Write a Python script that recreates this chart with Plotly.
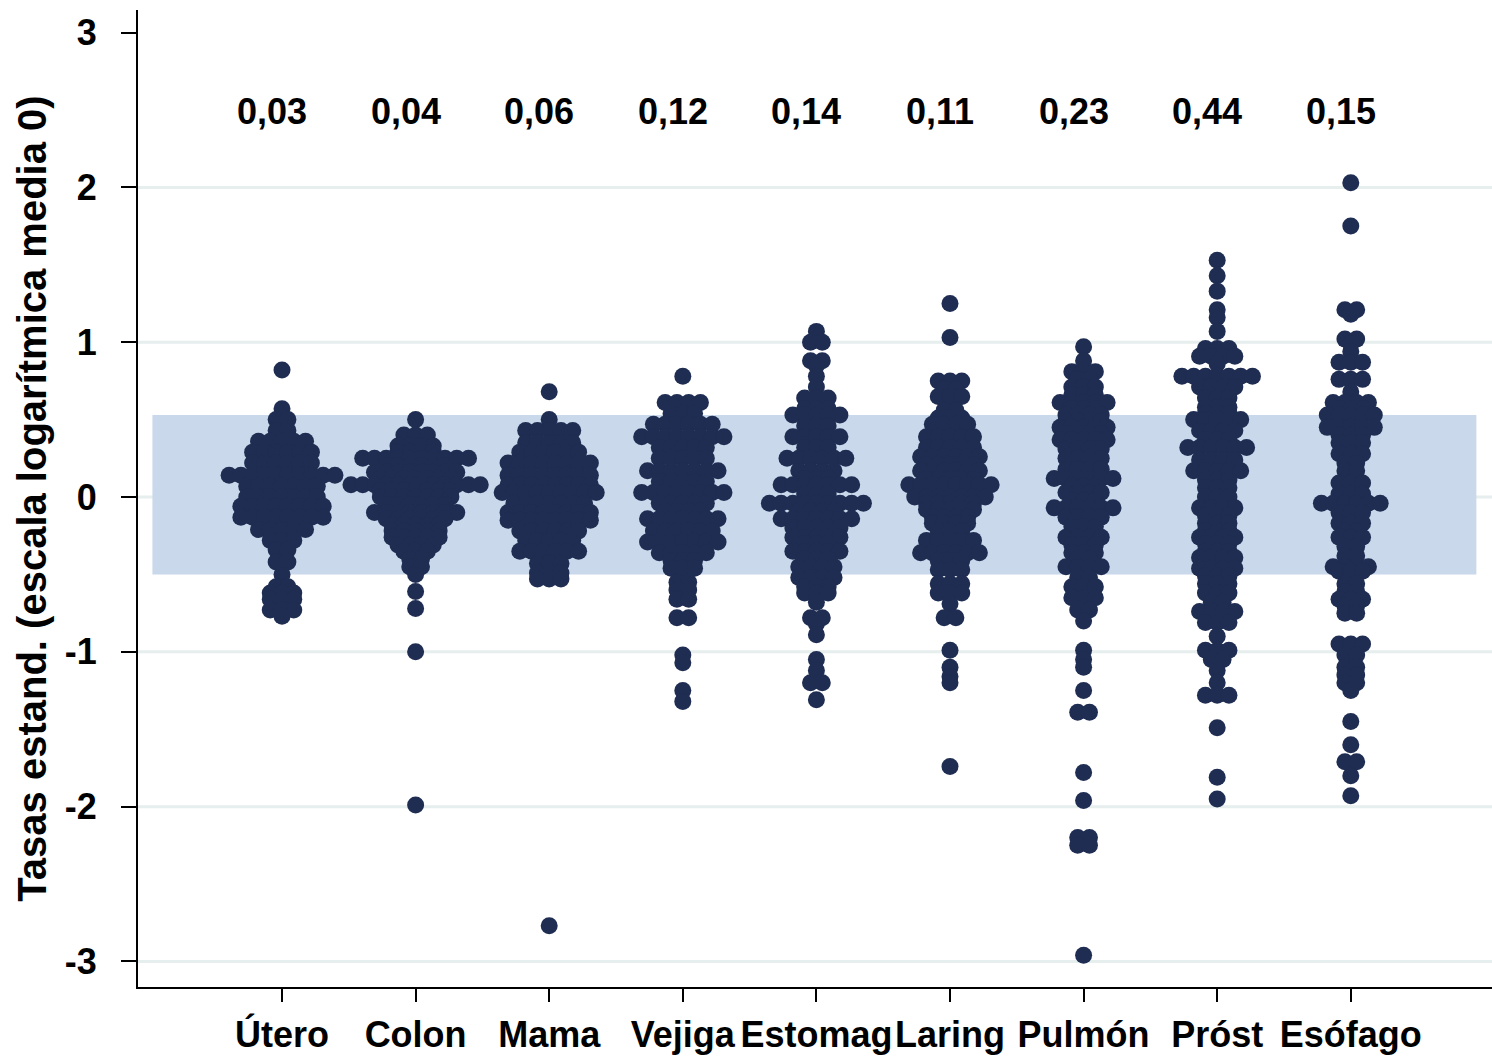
import plotly.graph_objects as go

categories = ["Útero", "Colon", "Mama", "Vejiga", "Estomag", "Laring", "Pulmón", "Próst", "Esófago"]
top_labels = ["0,03", "0,04", "0,06", "0,12", "0,14", "0,11", "0,23", "0,44", "0,15"]
y_ticks = [-3, -2, -1, 0, 1, 2, 3]
grid_vals = [-3, -2, -1, 0, 1, 2]

# Dot rows per category: y level of each row and number of dots in that row
utero_y = [0.82, 0.57, 0.50, 0.43, 0.36, 0.29, 0.22, 0.14, 0.07, 0.0, -0.06, -0.13, -0.21, -0.28, -0.34, -0.42, -0.50, -0.58, -0.62, -0.66, -0.73, -0.77]
utero_n = [1, 1, 2, 2, 5, 6, 6, 10, 7, 7, 8, 8, 5, 3, 2, 2, 1, 2, 3, 3, 3, 1]

colon_y = [0.50, 0.40, 0.33, 0.29, 0.25, 0.20, 0.16, 0.12, 0.08, 0.04, 0.0, -0.05, -0.10, -0.14, -0.18, -0.22, -0.26, -0.31, -0.35, -0.40, -0.45, -0.50, -0.61, -0.72, -1.0, -1.99]
colon_n = [1, 3, 4, 4, 10, 6, 8, 7, 12, 7, 7, 6, 8, 6, 5, 5, 5, 4, 3, 2, 2, 1, 1, 1, 1, 1]

mama_y = [0.68, 0.50, 0.43, 0.35, 0.29, 0.22, 0.14, 0.08, 0.03, -0.04, -0.10, -0.15, -0.22, -0.28, -0.35, -0.43, -0.49, -0.53, -2.77]
mama_n = [1, 1, 5, 5, 6, 8, 8, 8, 9, 7, 8, 8, 6, 5, 6, 3, 3, 3, 1]

vejiga_y = [0.78, 0.61, 0.54, 0.47, 0.39, 0.32, 0.25, 0.17, 0.10, 0.03, -0.04, -0.09, -0.14, -0.22, -0.29, -0.36, -0.41, -0.46, -0.55, -0.60, -0.66, -0.78, -1.02, -1.07, -1.25, -1.32]
vejiga_n = [1, 4, 3, 6, 8, 5, 5, 7, 5, 8, 5, 4, 7, 6, 7, 5, 3, 3, 2, 2, 2, 2, 1, 1, 1, 1]

estomag_y = [1.07, 1.00, 0.88, 0.85, 0.78, 0.71, 0.64, 0.57, 0.53, 0.46, 0.39, 0.32, 0.25, 0.17, 0.12, 0.08, 0.02, -0.04, -0.09, -0.14, -0.20, -0.26, -0.30, -0.35, -0.40, -0.45, -0.52, -0.58, -0.62, -0.68, -0.78, -0.82, -0.89, -1.05, -1.12, -1.20, -1.31]
estomag_n = [1, 2, 2, 1, 1, 1, 3, 3, 5, 3, 5, 3, 6, 4, 3, 7, 3, 9, 4, 7, 5, 5, 3, 5, 3, 4, 4, 3, 3, 1, 2, 1, 1, 1, 1, 2, 1]

laring_y = [1.25, 1.03, 0.75, 0.70, 0.65, 0.56, 0.51, 0.47, 0.39, 0.32, 0.26, 0.21, 0.17, 0.12, 0.08, 0.0, -0.04, -0.08, -0.13, -0.17, -0.22, -0.28, -0.36, -0.41, -0.47, -0.56, -0.62, -0.69, -0.78, -0.99, -1.10, -1.16, -1.20, -1.74]
laring_n = [1, 1, 3, 2, 3, 2, 3, 4, 5, 5, 6, 5, 6, 5, 8, 7, 5, 5, 4, 4, 3, 5, 6, 3, 3, 3, 3, 1, 2, 1, 1, 1, 1, 1]

pulmon_y = [0.97, 0.88, 0.81, 0.76, 0.71, 0.66, 0.61, 0.57, 0.53, 0.49, 0.45, 0.41, 0.37, 0.31, 0.25, 0.18, 0.12, 0.07, 0.03, -0.02, -0.07, -0.13, -0.19, -0.26, -0.31, -0.36, -0.40, -0.45, -0.52, -0.58, -0.65, -0.73, -0.80, -0.99, -1.05, -1.10, -1.25, -1.39, -1.78, -1.96, -2.20, -2.25, -2.96]
pulmon_n = [1, 1, 3, 2, 3, 3, 5, 3, 4, 4, 5, 4, 5, 4, 4, 4, 6, 3, 4, 3, 6, 4, 3, 4, 3, 3, 2, 4, 2, 3, 3, 2, 1, 1, 1, 1, 1, 2, 1, 1, 2, 2, 1]

prost_y = [1.53, 1.43, 1.33, 1.21, 1.16, 1.07, 0.96, 0.91, 0.86, 0.78, 0.71, 0.64, 0.58, 0.54, 0.50, 0.43, 0.37, 0.32, 0.24, 0.17, 0.11, 0.06, 0.0, -0.07, -0.12, -0.17, -0.22, -0.26, -0.30, -0.35, -0.39, -0.46, -0.51, -0.56, -0.62, -0.68, -0.74, -0.81, -0.90, -0.99, -1.05, -1.12, -1.20, -1.28, -1.49, -1.81, -1.95]
prost_n = [1, 1, 1, 1, 1, 1, 3, 4, 1, 7, 4, 3, 3, 3, 5, 4, 3, 6, 4, 5, 3, 3, 3, 4, 3, 3, 3, 4, 3, 3, 4, 4, 3, 3, 3, 2, 4, 3, 1, 3, 2, 1, 1, 3, 1, 1, 1]

esofago_y = [2.03, 1.75, 1.21, 1.18, 1.02, 0.99, 0.94, 0.87, 0.76, 0.68, 0.61, 0.57, 0.53, 0.45, 0.40, 0.35, 0.28, 0.22, 0.17, 0.09, 0.02, -0.04, -0.10, -0.17, -0.22, -0.26, -0.32, -0.38, -0.45, -0.48, -0.56, -0.61, -0.66, -0.70, -0.75, -0.95, -1.02, -1.10, -1.15, -1.20, -1.25, -1.45, -1.60, -1.71, -1.80, -1.93]
esofago_n = [1, 1, 2, 1, 2, 1, 1, 3, 3, 1, 4, 3, 5, 5, 3, 3, 3, 2, 2, 3, 3, 6, 3, 3, 2, 3, 2, 2, 4, 3, 2, 2, 3, 2, 2, 3, 2, 2, 2, 2, 1, 1, 1, 2, 1, 1]

rows_y = [utero_y, colon_y, mama_y, vejiga_y, estomag_y, laring_y, pulmon_y, prost_y, esofago_y]
rows_n = [utero_n, colon_n, mama_n, vejiga_n, estomag_n, laring_n, pulmon_n, prost_n, esofago_n]

DOT = "#1f2d52"
BAND = "#c9d8ea"
GRID = "#e6eeee"
FONT = "Liberation Sans"
dx = 0.088  # horizontal spacing between dots in a row (category units)

positions = list(range(1, len(categories) + 1))

xs, ys = [], []
for pos, yl, nl in zip(positions, rows_y, rows_n):
    for yv, n in zip(yl, nl):
        for k in range(n):
            xs.append(pos + (k - (n - 1) / 2) * dx)
            ys.append(yv)

fig = go.Figure()
fig.add_trace(go.Scatter(
    x=xs, y=ys, mode="markers",
    marker=dict(size=17, color=DOT, line=dict(width=0)),
    hoverinfo="skip", showlegend=False,
))

shapes = [dict(type="rect", xref="x", yref="y", x0=0.03, x1=9.94, y0=-0.50, y1=0.53,
               fillcolor=BAND, line=dict(width=0), layer="below")]
for g in grid_vals:
    shapes.append(dict(type="line", xref="x domain", yref="y", x0=0, x1=1, y0=g, y1=g,
                       line=dict(color=GRID, width=3), layer="below"))

annotations = []
for pos, lab in zip(positions, top_labels):
    annotations.append(dict(x=pos, y=2.49, xref="x", yref="y", text=lab, showarrow=False,
                            font=dict(family=FONT, size=36, color="black", weight="bold"),
                            xshift=-10))

fig.update_layout(
    width=1492, height=1057,
    margin=dict(l=138, r=0, t=10, b=70),
    paper_bgcolor="white", plot_bgcolor="white",
    shapes=shapes, annotations=annotations,
    xaxis=dict(
        range=[-0.078, 10.057], tickmode="array", tickvals=positions, ticktext=categories,
        ticks="outside", ticklen=13, tickwidth=2, tickcolor="black",
        showline=True, linecolor="black", linewidth=2, showgrid=False, zeroline=False,
        tickfont=dict(family=FONT, size=36, color="black", weight="bold"),
        ticklabelstandoff=2,
    ),
    yaxis=dict(
        range=[-3.165, 3.146], tickmode="array", tickvals=y_ticks, ticktext=[str(t) for t in y_ticks],
        ticks="outside", ticklen=15, tickwidth=2, tickcolor="black",
        showline=True, linecolor="black", linewidth=2, showgrid=False, zeroline=False,
        tickfont=dict(family=FONT, size=36, color="black", weight="bold"),
        ticklabelstandoff=17,
        title=dict(text="Tasas estand. (escala logarítmica media 0)",
                   font=dict(family=FONT, size=40, color="black", weight="bold"), standoff=6),
    ),
)

fig.write_html("out.html")
